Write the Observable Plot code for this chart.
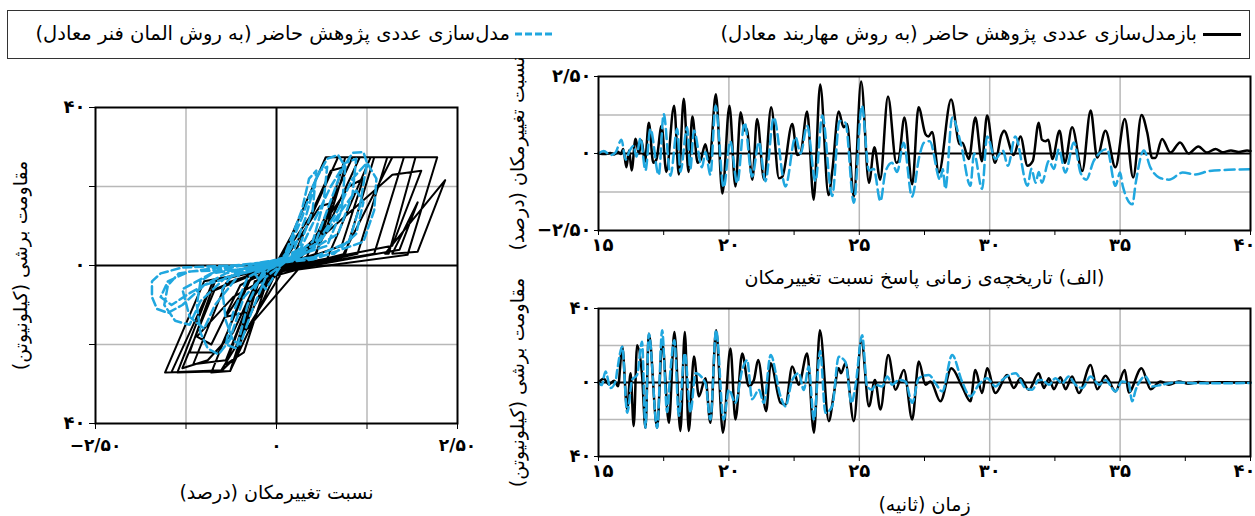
<!DOCTYPE html>
<html><head><meta charset="utf-8">
<script src="https://cdn.jsdelivr.net/npm/d3@7"></script>
<script src="https://cdn.jsdelivr.net/npm/@observablehq/plot@0.6"></script>
<style>
body{margin:0;background:#fff;width:1255px;height:516px;position:relative;overflow:hidden;font-family:"DejaVu Sans",sans-serif;}
.abs{position:absolute;}
#legend{left:7px;top:10px;width:1243px;height:49px;border:1.5px solid #333;box-sizing:border-box;}
.ltxt{position:absolute;top:22px;font-size:19.5px;line-height:24px;white-space:nowrap;direction:rtl;color:#000;}
</style></head>
<body>
<div id="legend" class="abs"></div>
<div class="abs" style="left:1203px;top:33px;width:38px;height:3px;background:#000"></div>
<div id="lt1" class="ltxt" style="right:58px"></div>
<svg class="abs" style="left:515px;top:30px" width="38" height="8"><line x1="0" y1="4" x2="38" y2="4" stroke="#20a7df" stroke-width="3" stroke-dasharray="7,3"/></svg>
<div id="lt2" class="ltxt" style="right:745px"></div>
<div id="pL" class="abs" style="left:0;top:88px"></div>
<div id="pT" class="abs" style="left:490px;top:62px"></div>
<div id="pB" class="abs" style="left:490px;top:292px"></div>
<script>
// ---------- labels ----------
const legendLabels = ["بازمدل\u200cسازی عددی پژوهش حاضر (به روش مهاربند معادل)", "مدل\u200cسازی عددی پژوهش حاضر (به روش المان فنر معادل)"];
const driftLabel = "نسبت تغییرمکان (درصد)";
const forceLabel = "مقاومت برشی (کیلونیوتن)";
const captionA = "(الف) تاریخچه\u200cی زمانی پاسخ نسبت تغییرمکان";
const timeLabel = "زمان (ثانیه)";

// ---------- ticks ----------
const timeTicks = [15, 20, 25, 30, 35, 40];
const timeTickLabels = ["۱۵", "۲۰", "۲۵", "۳۰", "۳۵", "۴۰"];
const timeMinor = [15, 17.5, 20, 22.5, 25, 27.5, 30, 32.5, 35, 37.5, 40];
const timeGrid = [20, 25, 30, 35];
const driftTicks = [-2.5, 0, 2.5];
const driftTickLabels = ["−۲/۵۰", "۰", "۲/۵۰"];
const driftGrid = [-1.25, 1.25];
const forceTicks = [-40, 0, 40];
const forceTickLabels = ["۴۰", "۰", "۴۰"];
const forceGrid = [-20, 20];

// ---------- drift time history [t (s), drift (%)] ----------
const driftBlack = [[15,0],[15.25,-0.02],[15.45,0.02],[15.6,-0.03],[15.75,0.06],[15.85,-0.02],[15.95,0.15],[16.07,-0.45],[16.17,0.1],[16.27,-0.55],[16.42,0.48],[16.55,0],[16.65,0.42],[16.78,-0.27],[16.93,1.0],[17.1,-0.3],[17.22,-0.2],[17.42,0.9],[17.6,-0.6],[17.9,1.55],[18.08,-0.68],[18.27,1.78],[18.45,-0.6],[18.6,1.2],[18.8,-0.3],[18.92,-0.2],[19.1,0.3],[19.25,-0.3],[19.5,1.92],[19.75,-1.3],[20.02,1.55],[20.25,-1.07],[20.45,1.34],[20.6,0.75],[20.68,0.8],[20.9,-0.85],[21.08,1.12],[21.35,-0.85],[21.62,1.5],[21.92,-0.8],[22.05,-0.75],[22.43,0.96],[22.62,-0.05],[22.75,0.02],[23.0,1.36],[23.25,-1.5],[23.5,2.24],[23.82,-1.35],[23.96,-0.6],[24.21,1.36],[24.4,0.85],[24.53,0.96],[24.79,-1.4],[25.07,2.34],[25.37,-0.95],[25.58,0.2],[25.8,-0.85],[26.1,1.85],[26.42,-0.3],[26.5,-0.25],[26.73,1.17],[27.03,-1.0],[27.27,1.5],[27.54,0.62],[27.65,0.55],[27.79,0.7],[28.05,-0.62],[28.52,1.75],[28.85,0.3],[28.95,0.35],[29.2,-0.18],[29.45,1.17],[29.7,-0.25],[29.9,1.23],[30.2,-0.3],[30.45,0.6],[30.55,0.74],[30.92,-0.05],[31.18,0.55],[31.45,-0.4],[31.65,-0.25],[31.88,1.0],[32.0,0.45],[32.14,0.4],[32.25,0.45],[32.4,-0.18],[32.68,0.74],[32.88,-0.3],[33.16,0.85],[33.55,-0.57],[33.87,1.4],[34.12,-0.13],[34.44,0.74],[34.82,-0.45],[35.18,1.12],[35.5,-0.78],[35.82,1.25],[36.04,0.68],[36.23,-0.15],[36.35,-0.15],[36.61,0.47],[36.93,0.03],[37.3,0.36],[37.63,0],[38.0,0.23],[38.33,0.03],[38.66,0.15],[38.92,0.04],[39.25,0.1],[39.55,0.05],[39.87,0.1],[40,0.08]];
const driftBlue = [[15,0],[15.2,0.08],[15.45,-0.05],[15.65,0.03],[15.88,0.45],[16.04,-0.2],[16.2,0.1],[16.35,0.25],[16.45,-0.1],[16.61,0.5],[16.8,-0.55],[16.99,0.8],[17.31,-0.7],[17.5,1.28],[17.76,-0.72],[18.02,0.8],[18.14,-0.59],[18.4,0.85],[18.52,-0.5],[18.66,0.75],[18.97,-0.45],[19.1,0.05],[19.29,-0.69],[19.49,1.55],[19.8,-1.1],[20.05,0.4],[20.32,-0.96],[20.6,1.0],[20.89,-0.75],[21.15,0.37],[21.4,-0.9],[21.72,1.17],[22.17,-1.07],[22.55,0.53],[22.75,0],[23.0,0.9],[23.32,-0.9],[23.58,1.23],[23.96,-1.38],[24.24,1.06],[24.47,1.0],[24.79,-1.6],[25.1,1.55],[25.37,-0.55],[25.55,-0.5],[25.81,-1.55],[26.0,-0.6],[26.25,-0.3],[26.45,-0.6],[26.7,0.35],[27.02,-1.4],[27.3,-0.1],[27.48,0.35],[27.7,0.4],[28.1,-0.85],[28.2,-0.5],[28.3,-1.15],[28.56,1.17],[28.9,0.3],[29.26,-1.05],[29.4,0],[29.71,-1.15],[29.9,0.55],[30.22,-0.18],[30.5,0.1],[30.7,-0.4],[30.98,0.55],[31.45,-1.05],[31.6,-0.5],[31.76,-0.95],[31.88,-0.6],[32.0,-0.95],[32.27,-0.24],[32.46,-0.5],[32.65,0.14],[32.9,-0.62],[33.23,0.36],[33.48,-0.62],[33.7,-0.85],[33.99,-0.24],[34.5,0.14],[34.82,-1.05],[35.0,-0.62],[35.1,-1.05],[35.47,-1.65],[35.6,-0.95],[35.91,0.1],[36.16,-0.45],[36.5,-0.78],[36.87,-0.85],[37.4,-0.62],[37.9,-0.68],[38.4,-0.57],[39.15,-0.53],[40,-0.51]];

// ---------- shear force time history [t (s), force (kN)] ----------
const forceBlack = [[15,0],[15.2,2],[15.4,-1],[15.6,1],[15.75,-2],[15.91,19.3],[16.1,-14.6],[16.23,5],[16.35,-23.6],[16.48,20.2],[16.67,4],[16.8,-24.5],[16.93,26.4],[17.25,-24.5],[17.44,22],[17.7,-21.8],[17.91,27.3],[18.14,-26.2],[18.31,27.3],[18.46,-26.2],[18.66,14],[18.85,-7.5],[19.1,2.3],[19.29,-21.8],[19.51,28.2],[19.77,-27.1],[20.06,18.4],[20.25,-20],[20.51,15.7],[20.76,-2],[20.96,1.4],[21.12,12.1],[21.43,-15.5],[21.6,10.4],[21.98,-11],[22.17,-12],[22.43,8.6],[22.68,-1.2],[23.0,15.7],[23.26,-27.1],[23.49,28.2],[23.83,-20.9],[24.02,-6.6],[24.21,7.7],[24.3,5],[24.47,10.4],[24.79,-20.9],[25.08,22.9],[25.37,-12.9],[25.6,1.4],[25.81,-14.6],[26.11,14.8],[26.39,-3.9],[26.71,6.8],[27.03,-20],[27.28,11.3],[27.54,-1.2],[27.73,0.5],[28.11,-10.2],[28.53,7.7],[28.94,-2.1],[29.26,-10.2],[29.45,6.8],[29.71,-5.7],[29.9,7.7],[30.22,-5.7],[30.67,4.1],[30.92,-3],[31.18,2.3],[31.5,-3.9],[31.88,5],[32.08,-3],[32.27,2.3],[32.46,-3.6],[32.71,2.9],[32.91,-3.6],[33.16,3.2],[33.42,-5.7],[33.87,9.5],[34.12,-3.6],[34.44,3.6],[34.82,-4.8],[35.18,6.8],[35.33,-5.4],[35.82,7.7],[36.17,-3.6],[36.55,0.5],[36.87,-1.2],[37.25,0.5],[37.63,-0.7],[38.02,0.3],[38.4,-0.3],[38.79,0.2],[39.42,0],[40,0]];
const forceBlue = [[15,0],[15.12,-1.4],[15.27,5.9],[15.46,-3],[15.65,0.5],[15.72,6.8],[15.91,19.3],[16.1,-16.4],[16.29,1.4],[16.48,4.1],[16.67,22],[16.8,-24.5],[16.93,26.4],[17.25,-24.5],[17.44,28.2],[17.63,-16],[17.76,6.8],[17.91,22.8],[18.08,-18],[18.31,15.7],[18.53,-16],[18.72,5],[19.1,-0.4],[19.29,-20],[19.51,28.2],[19.8,-20],[20.0,-4],[20.25,-11],[20.51,6.8],[20.7,12],[20.89,-9],[21.15,-4],[21.34,-11],[21.6,14.8],[21.98,-7.5],[22.17,-12.9],[22.43,1.4],[22.68,5],[22.87,-4],[23.06,8.6],[23.26,-20],[23.5,17],[23.7,-16.4],[23.96,-12.9],[24.21,13.9],[24.47,11.1],[24.7,-11],[24.85,-2.1],[25.11,25.5],[25.3,-2.1],[25.49,-3.9],[25.62,-1.2],[25.88,-2.1],[26.07,3.2],[26.26,-1.2],[26.52,1.4],[26.77,0.5],[27.03,-11],[27.28,2.3],[27.67,4.1],[27.92,-0.4],[28.18,-4.8],[28.56,14.8],[28.94,0.5],[29.26,-7.5],[29.58,-1.2],[29.9,2.3],[30.22,-2.1],[30.48,1.4],[30.99,5],[31.37,-3],[31.63,-3.9],[31.88,1.4],[32.01,1.4],[32.27,-1.2],[32.52,2.3],[32.78,-0.4],[33.03,3.2],[33.29,-1.2],[33.55,-3],[33.87,3.2],[34.2,-1.2],[34.44,1.4],[34.82,-4.8],[35.08,0.5],[35.33,-0.4],[35.46,-10.2],[35.6,-3.9],[35.97,3.2],[36.23,-2.1],[36.61,-1.2],[37.1,0],[38.0,-0.4],[40,-0.3]];

// ---------- hysteresis [drift (%), force (kN)] ----------
const hystBlack = [[0,0],[0.25,9],[-0.05,-1],[-0.3,-10],[0,-1],[0.2,7],[0.05,1],[0.68,27.4],[0.95,27.4],[0.55,3],[-0.2,-1.5],[-0.64,-26.7],[-0.9,-27.1],[-0.4,-4],[0.2,1],[0.85,27.4],[1.35,27.4],[0.95,3],[-0.1,-2],[-0.55,-20],[-0.3,-5],[0.4,1.5],[1.05,27.4],[1.53,27.4],[1.12,3],[0,-1.5],[-0.64,-26.7],[-1.37,-27.1],[-0.87,-3.6],[0.5,1.5],[1.15,27.4],[1.76,27.4],[1.35,3],[0.1,-1],[-0.77,-26.7],[-1.54,-27.1],[-1.0,-4],[0.7,1.8],[1.3,27.4],[2.22,27.4],[1.81,2.7],[0.3,-1],[-0.5,-18],[-0.3,-4],[0.9,2],[1.6,27.4],[1.92,27.4],[1.55,3],[1.5,3],[1.9,12],[2.33,21.6],[1.95,3.5],[1.6,3],[1.95,16],[1.7,4],[0.5,0],[-0.35,-3],[-0.8,-22],[-1.2,-22],[-0.85,-4],[0.3,1],[1.0,20],[1.2,22],[0.9,5],[0.2,0.5],[-0.6,-8],[-1.1,-18],[-0.9,-20],[-0.5,-5],[0.1,1],[0.6,15],[0.8,16],[0.5,4],[-0.2,-2],[-0.45,-12],[-0.7,-13],[-0.3,-2],[0.3,2],[1.6,23],[2.0,24],[1.6,5],[0.2,0],[-0.25,-3],[-0.7,-24],[-1.15,-25],[-0.7,-4.5],[0.1,0.5],[-0.3,-5],[-0.6,-17],[-0.95,-24],[-1.3,-26],[-0.85,-6],[-0.2,-1],[-0.55,-23],[-0.75,-26.5],[-1.45,-27],[-0.95,-7],[0,0],[0.45,12],[0.75,24],[0.95,25],[0.7,10],[0.2,1],[-0.15,-5],[-0.45,-22],[-0.7,-25],[-0.4,-10],[0,0]];
const hystBlue = [[0,0],[0.25,6],[0.1,1],[-0.3,-2],[-0.15,-6],[0.1,1],[0.35,12],[0.5,20],[0.6,24],[0.7,25],[0.65,16],[0.5,6],[0.1,1],[-0.6,-2],[-0.75,-6],[-0.7,-14],[-0.6,-19],[-0.5,-20],[-0.35,-12],[-0.15,-3],[0.2,2],[0.4,12],[0.55,22],[0.7,27],[0.85,28],[0.95,25],[0.9,14],[0.7,5],[0.2,2],[-0.8,-1],[-1.05,-4],[-1.1,-10],[-1.05,-17],[-0.95,-21],[-0.8,-22.5],[-0.65,-19],[-0.45,-8],[-0.1,-1],[0.5,4],[0.7,14],[0.9,24],[1.05,28.5],[1.2,28.7],[1.25,26],[1.15,15],[1.0,6],[0.5,2],[-0.6,0],[-1.3,-0.5],[-1.6,-2],[-1.72,-4],[-1.72,-8],[-1.65,-11],[-1.5,-12],[-1.3,-10],[-1.0,-5],[-0.3,-1],[0.5,4],[0.85,14],[1.05,22],[1.25,26],[1.38,22],[1.35,14],[1.2,6],[0.5,1.5],[-0.8,-0.5],[-1.35,-2],[-1.5,-5],[-1.55,-10],[-1.4,-14],[-1.2,-15],[-1.05,-9],[-0.7,-3],[0,0],[0.6,6],[0.9,14],[1.1,19],[1.2,16],[1.1,8],[0.8,3],[-0.5,-1],[-1.2,-1.5],[-1.5,-4],[-1.6,-8],[-1.45,-10],[-1.2,-7],[-0.7,-2],[0.1,2],[0.35,14],[0.45,22],[0.55,24],[0.5,14],[0.3,4],[-0.4,-3],[-0.6,-12],[-0.7,-20],[-0.55,-21],[-0.4,-10],[-0.2,-2],[0.3,3],[0.75,20],[0.95,26],[1.1,27],[1.05,18],[0.85,8],[0.2,1],[-0.9,-2],[-1.3,-6],[-1.2,-13],[-1.0,-16],[-0.85,-10],[-0.5,-2],[0,0]];

// ---------- drawing ----------
const BLUE = "#20a7df";
const FONT = "DejaVu Sans";
const rtl = s => "\u200F" + s + "\u200F";
const fmt = (ticks, labels) => d => { const i = ticks.indexOf(d); return i < 0 ? "" : labels[i]; };

document.getElementById("lt1").textContent = legendLabels[0];
document.getElementById("lt2").textContent = legendLabels[1];

const gridStyle = {stroke: "#b8b8b8", strokeOpacity: 1, strokeWidth: 1.5};
const tickText = {fontSize: 18, fontWeight: "bold", label: null};

// Left: hysteresis
document.getElementById("pL").append(Plot.plot({
  width: 480, height: 422, marginLeft: 95, marginRight: 23, marginTop: 19, marginBottom: 87,
  style: {fontFamily: FONT, background: "transparent", overflow: "visible"},
  x: {domain: [-2.5, 2.5], axis: null},
  y: {domain: [-40, 40], axis: null},
  marks: [
    Plot.gridX(driftGrid, gridStyle),
    Plot.gridY(forceGrid, gridStyle),
    Plot.ruleX([0], {stroke: "black", strokeWidth: 2}),
    Plot.ruleY([0], {stroke: "black", strokeWidth: 2}),
    Plot.line(hystBlack, {x: d => d[0], y: d => d[1], stroke: "black", strokeWidth: 2, curve: "linear"}),
    Plot.line(hystBlue, {x: d => d[0], y: d => d[1], stroke: BLUE, strokeWidth: 2.5, strokeDasharray: "8,4", curve: "linear"}),
    Plot.frame({stroke: "black", strokeWidth: 2}),
    Plot.axisX([-2.5, -1.25, 0, 1.25, 2.5], {tickSize: 6, tickFormat: fmt(driftTicks, driftTickLabels), tickPadding: 9, ...tickText, fontSize: 17}),
    Plot.axisY([-40, -20, 0, 20, 40], {tickSize: 6, tickFormat: fmt(forceTicks, forceTickLabels), tickPadding: 4, ...tickText}),
    Plot.text([rtl(driftLabel)], {text: d => d, frameAnchor: "bottom", textAnchor: "middle", dy: 75, fontSize: 19}),
    Plot.text([rtl(forceLabel)], {text: d => d, frameAnchor: "left", textAnchor: "middle", dx: -75, rotate: -90, fontSize: 19})
  ]
}));

function timePanel(el, {black, blue, yDomain, yTicks, yTickLabels, yGrid, height, marginTop, marginBottom, xlabel, xlabelDy, ylabel, dash}) {
  document.getElementById(el).append(Plot.plot({
    width: 765, height, marginLeft: 108, marginRight: 5, marginTop, marginBottom,
    style: {fontFamily: FONT, background: "transparent", overflow: "visible"},
    x: {domain: [15, 40], axis: null},
    y: {domain: yDomain, axis: null},
    marks: [
      Plot.gridX(timeGrid, gridStyle),
      Plot.gridY(yGrid, gridStyle),
      Plot.ruleY([0], {stroke: "black", strokeWidth: 2}),
      Plot.line(black, {x: d => d[0], y: d => d[1], stroke: "black", strokeWidth: 2.5, curve: "monotone-x"}),
      Plot.line(blue, {x: d => d[0], y: d => d[1], stroke: BLUE, strokeWidth: 2.5, strokeDasharray: dash, curve: "monotone-x"}),
      Plot.frame({stroke: "black", strokeWidth: 2}),
      Plot.axisX(timeMinor, {tickSize: 5, tickFormat: () => "", label: null}),
      Plot.axisX(timeTicks.slice(1, -1), {tickSize: 0, tickPadding: 8, tickFormat: fmt(timeTicks, timeTickLabels), ...tickText}),
      Plot.axisX(timeTicks.slice(0, 1), {tickSize: 0, tickPadding: 8, dx: 4, tickFormat: fmt(timeTicks, timeTickLabels), ...tickText}),
      Plot.axisX(timeTicks.slice(-1), {tickSize: 0, tickPadding: 8, dx: -6, tickFormat: fmt(timeTicks, timeTickLabels), ...tickText}),
      Plot.axisY(yTicks, {tickSize: 4, tickFormat: fmt(yTicks, yTickLabels), tickPadding: 3, ...tickText}),
      Plot.text([rtl(xlabel)], {text: d => d, frameAnchor: "bottom", textAnchor: "middle", dy: xlabelDy, fontSize: 19}),
      Plot.text([rtl(ylabel)], {text: d => d, frameAnchor: "left", textAnchor: "middle", dx: -81, rotate: -90, fontSize: 19})
    ]
  }));
}

timePanel("pT", {black: driftBlack, blue: driftBlue, yDomain: [-2.5, 2.5], yTicks: driftTicks,
  yTickLabels: ["−۲/۵۰", "۰", "۲/۵۰"], yGrid: driftGrid,
  height: 228, marginTop: 14, marginBottom: 60, xlabel: captionA, xlabelDy: 53, ylabel: driftLabel, dash: "10,5"});
timePanel("pB", {black: forceBlack, blue: forceBlue, yDomain: [-40, 40], yTicks: forceTicks,
  yTickLabels: forceTickLabels, yGrid: forceGrid,
  height: 224, marginTop: 16, marginBottom: 60, xlabel: timeLabel, xlabelDy: 54, ylabel: forceLabel, dash: "8,4"});
</script>
</body></html>
